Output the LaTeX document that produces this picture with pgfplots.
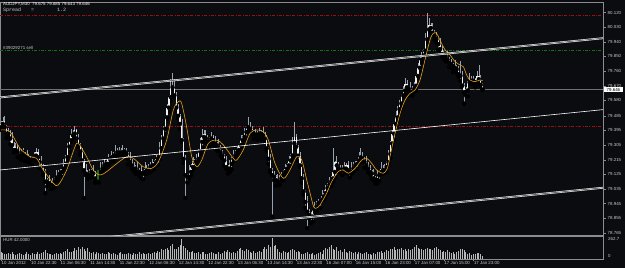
\documentclass[border=0pt]{standalone}
\usepackage{pgfplots}
\pgfplotsset{compat=1.18}
\usepackage{pgfplotstable}
\usepackage{fontspec}
\setmainfont{Liberation Sans}
\newfontfamily\monofont{Liberation Mono}
\definecolor{bg}{HTML}{0B0C0F}
\definecolor{frame}{HTML}{8C8C8C}
\definecolor{txt}{HTML}{C8C8C8}
\definecolor{wick}{HTML}{98A2AE}
\definecolor{body}{HTML}{EEF0F2}
\definecolor{maor}{HTML}{E8A01C}
\definecolor{redl}{HTML}{9A1010}
\definecolor{greenl}{HTML}{157015}
\definecolor{volc}{HTML}{B8B8B8}
\definecolor{changray}{HTML}{6E6E6E}
\definecolor{bidc}{HTML}{707070}
\newcommand\lbl{\fontsize{4.4}{5}\selectfont}

\pgfplotstableread{
i o h l c v
0 79.415 79.455 79.400 79.435 95
1 79.435 79.475 79.405 79.455 80
2 79.455 79.485 79.405 79.415 70
3 79.415 79.430 79.350 79.375 65
4 79.375 79.410 79.355 79.385 75
5 79.385 79.395 79.310 79.345 60
6 79.345 79.385 79.295 79.305 85
7 79.305 79.325 79.260 79.275 70
8 79.275 79.315 79.265 79.295 55
9 79.295 79.305 79.230 79.260 65
10 79.260 79.285 79.230 79.240 80
11 79.240 79.280 79.215 79.265 60
12 79.265 79.290 79.240 79.260 50
13 79.260 79.265 79.205 79.240 70
14 79.240 79.275 79.220 79.230 90
15 79.230 79.250 79.200 79.220 65
16 79.220 79.240 79.195 79.210 55
17 79.210 79.230 79.180 79.220 75
18 79.220 79.265 79.210 79.240 60
19 79.240 79.285 79.215 79.260 70
20 79.260 79.280 79.210 79.230 85
21 79.230 79.240 79.165 79.200 60
22 79.200 79.240 79.160 79.170 75
23 79.170 79.190 79.120 79.140 95
24 79.140 79.160 79.010 79.080 110
25 79.080 79.100 79.050 79.090 80
26 79.090 79.120 79.060 79.070 65
27 79.070 79.085 79.035 79.060 70
28 79.060 79.105 79.040 79.080 55
29 79.080 79.110 79.045 79.100 60
30 79.100 79.150 79.090 79.110 75
31 79.110 79.150 79.090 79.130 65
32 79.130 79.160 79.115 79.140 80
33 79.140 79.170 79.110 79.160 70
34 79.160 79.220 79.150 79.190 90
35 79.190 79.245 79.165 79.230 100
36 79.230 79.320 79.210 79.295 120
37 79.295 79.345 79.265 79.335 95
38 79.335 79.405 79.325 79.365 85
39 79.365 79.395 79.345 79.375 105
40 79.375 79.425 79.360 79.395 140
41 79.395 79.405 79.315 79.345 110
42 79.345 79.375 79.295 79.305 150
43 79.305 79.320 79.245 79.265 130
44 79.265 79.290 79.190 79.210 145
45 79.210 79.220 78.980 79.150 125
46 79.150 79.190 79.120 79.130 100
47 79.130 79.150 79.100 79.120 135
48 79.120 79.160 79.105 79.140 90
49 79.140 79.160 79.110 79.150 80
50 79.150 79.180 79.120 79.130 95
51 79.130 79.145 79.075 79.100 70
52 79.100 79.135 79.080 79.110 85
53 79.110 79.150 79.075 79.140 75
54 79.140 79.200 79.130 79.160 60
55 79.160 79.200 79.140 79.180 80
56 79.180 79.220 79.165 79.200 70
57 79.200 79.210 79.160 79.190 65
58 79.190 79.250 79.180 79.220 90
59 79.220 79.245 79.195 79.230 75
60 79.230 79.270 79.210 79.250 60
61 79.250 79.260 79.205 79.240 80
62 79.240 79.305 79.230 79.265 70
63 79.265 79.285 79.240 79.260 55
64 79.260 79.295 79.245 79.275 75
65 79.275 79.285 79.230 79.260 85
66 79.260 79.305 79.250 79.275 65
67 79.275 79.290 79.245 79.265 60
68 79.265 79.290 79.230 79.250 70
69 79.250 79.260 79.185 79.220 80
70 79.220 79.260 79.190 79.200 65
71 79.200 79.220 79.160 79.180 55
72 79.180 79.200 79.145 79.160 75
73 79.160 79.180 79.130 79.170 60
74 79.170 79.200 79.130 79.140 70
75 79.140 79.165 79.115 79.150 85
76 79.150 79.175 79.100 79.130 65
77 79.130 79.150 79.095 79.140 75
78 79.140 79.200 79.130 79.160 60
79 79.160 79.180 79.130 79.150 70
80 79.150 79.190 79.135 79.170 80
81 79.170 79.200 79.140 79.190 65
82 79.190 79.220 79.170 79.180 75
83 79.180 79.215 79.155 79.200 90
84 79.200 79.245 79.180 79.220 80
85 79.220 79.240 79.185 79.230 100
86 79.230 79.325 79.220 79.285 95
87 79.285 79.365 79.265 79.345 120
88 79.345 79.425 79.330 79.405 110
89 79.405 79.485 79.375 79.475 130
90 79.475 79.560 79.465 79.535 140
91 79.535 79.615 79.510 79.600 115
92 79.600 79.710 79.580 79.660 160
93 79.660 79.750 79.650 79.670 190
94 79.670 79.710 79.600 79.610 130
95 79.610 79.630 79.515 79.535 120
96 79.535 79.555 79.470 79.485 145
97 79.485 79.495 79.405 79.435 175
98 79.435 79.465 79.325 79.335 250
99 79.335 79.350 79.195 79.220 160
100 79.220 79.245 78.980 79.120 140
101 79.120 79.130 79.075 79.110 110
102 79.110 79.180 79.100 79.140 95
103 79.140 79.190 79.120 79.170 85
104 79.170 79.230 79.155 79.210 100
105 79.210 79.220 79.170 79.200 75
106 79.200 79.250 79.190 79.220 80
107 79.220 79.280 79.195 79.265 90
108 79.265 79.350 79.250 79.325 70
109 79.325 79.405 79.290 79.355 95
110 79.355 79.395 79.345 79.375 85
111 79.375 79.395 79.325 79.345 70
112 79.345 79.365 79.310 79.325 65
113 79.325 79.355 79.295 79.345 80
114 79.345 79.385 79.335 79.355 90
115 79.355 79.370 79.310 79.335 75
116 79.335 79.360 79.295 79.315 60
117 79.315 79.325 79.270 79.305 70
118 79.305 79.345 79.275 79.285 85
119 79.285 79.305 79.240 79.260 65
120 79.260 79.275 79.225 79.240 80
121 79.240 79.250 79.180 79.210 100
122 79.210 79.240 79.160 79.170 90
123 79.170 79.185 79.130 79.160 110
124 79.160 79.215 79.140 79.190 85
125 79.190 79.230 79.155 79.220 75
126 79.220 79.275 79.210 79.240 95
127 79.240 79.275 79.220 79.260 80
128 79.260 79.295 79.245 79.275 105
129 79.275 79.315 79.250 79.305 120
130 79.305 79.365 79.295 79.335 140
131 79.335 79.370 79.310 79.355 110
132 79.355 79.410 79.335 79.385 100
133 79.385 79.425 79.350 79.415 125
134 79.415 79.475 79.405 79.425 115
135 79.425 79.445 79.385 79.405 90
136 79.405 79.425 79.370 79.385 80
137 79.385 79.395 79.345 79.375 105
138 79.375 79.405 79.355 79.365 75
139 79.365 79.390 79.340 79.375 90
140 79.375 79.410 79.355 79.385 100
141 79.385 79.395 79.340 79.375 85
142 79.375 79.415 79.355 79.365 120
143 79.365 79.385 79.325 79.345 145
144 79.345 79.365 79.270 79.285 130
145 79.285 79.295 79.190 79.220 170
146 79.220 79.250 79.140 79.150 150
147 79.150 79.165 78.865 79.120 262.7
148 79.120 79.145 79.090 79.110 160
149 79.110 79.120 79.055 79.090 175
150 79.090 79.130 79.070 79.080 120
151 79.080 79.120 79.060 79.100 95
152 79.100 79.140 79.085 79.120 80
153 79.120 79.150 79.090 79.140 100
154 79.140 79.190 79.130 79.160 85
155 79.160 79.195 79.135 79.180 75
156 79.180 79.235 79.160 79.210 95
157 79.210 79.250 79.175 79.240 110
158 79.240 79.355 79.230 79.315 130
159 79.315 79.445 79.295 79.355 115
160 79.355 79.375 79.280 79.295 90
161 79.295 79.305 79.210 79.240 100
162 79.240 79.265 79.170 79.180 85
163 79.180 79.195 79.075 79.100 70
164 79.100 79.125 79.000 79.020 60
165 79.020 79.030 78.920 78.955 80
166 78.955 78.990 78.795 78.895 95
167 78.895 78.915 78.855 78.875 70
168 78.875 78.895 78.825 78.865 60
169 78.865 78.915 78.835 78.905 75
170 78.905 78.955 78.895 78.925 55
171 78.925 78.960 78.900 78.945 65
172 78.945 78.975 78.925 78.955 80
173 78.955 78.980 78.920 78.970 90
174 78.970 79.030 78.965 78.990 70
175 78.990 79.030 78.970 79.010 110
176 79.010 79.060 78.995 79.040 140
177 79.040 79.070 79.010 79.060 120
178 79.060 79.110 79.050 79.080 150
179 79.080 79.115 79.055 79.100 175
180 79.100 79.285 79.080 79.140 130
181 79.140 79.210 79.105 79.200 115
182 79.200 79.240 79.170 79.180 145
183 79.180 79.200 79.140 79.160 100
184 79.160 79.180 79.135 79.150 110
185 79.150 79.180 79.120 79.170 90
186 79.170 79.200 79.150 79.160 120
187 79.160 79.195 79.135 79.180 95
188 79.180 79.205 79.130 79.150 80
189 79.150 79.160 79.105 79.140 105
190 79.140 79.200 79.130 79.160 90
191 79.160 79.200 79.140 79.180 75
192 79.180 79.210 79.165 79.190 85
193 79.190 79.220 79.160 79.210 70
194 79.210 79.260 79.200 79.230 95
195 79.230 79.285 79.205 79.240 80
196 79.240 79.265 79.200 79.220 60
197 79.220 79.230 79.165 79.200 75
198 79.200 79.240 79.170 79.180 90
199 79.180 79.200 79.140 79.160 65
200 79.160 79.180 79.125 79.140 70
201 79.140 79.150 79.100 79.130 55
202 79.130 79.160 79.090 79.100 80
203 79.100 79.115 79.070 79.090 65
204 79.090 79.145 79.070 79.120 95
205 79.120 79.150 79.085 79.140 85
206 79.140 79.200 79.130 79.160 100
207 79.160 79.180 79.130 79.150 75
208 79.150 79.190 79.135 79.170 90
209 79.170 79.210 79.140 79.200 110
210 79.200 79.275 79.190 79.250 100
211 79.250 79.330 79.225 79.315 120
212 79.315 79.400 79.295 79.375 125
213 79.375 79.445 79.340 79.435 145
214 79.435 79.515 79.425 79.475 110
215 79.475 79.545 79.455 79.525 130
216 79.525 79.580 79.510 79.560 120
217 79.560 79.620 79.535 79.610 140
218 79.610 79.670 79.600 79.640 110
219 79.640 79.720 79.615 79.680 125
220 79.680 79.705 79.640 79.660 105
221 79.660 79.670 79.615 79.650 130
222 79.650 79.690 79.620 79.630 115
223 79.630 79.670 79.610 79.650 120
224 79.650 79.690 79.635 79.670 150
225 79.670 79.740 79.640 79.730 175
226 79.730 79.810 79.720 79.780 140
227 79.780 79.845 79.755 79.830 120
228 79.830 79.880 79.810 79.855 130
229 79.855 79.895 79.825 79.885 115
230 79.885 79.995 79.875 79.955 125
231 79.955 80.115 79.935 80.015 140
232 80.015 80.085 80.000 80.045 130
233 80.045 80.055 79.995 80.025 120
234 80.025 80.055 79.985 79.995 110
235 79.995 80.010 79.950 79.975 140
236 79.975 80.000 79.935 79.955 150
237 79.955 79.965 79.890 79.925 130
238 79.925 79.965 79.885 79.895 110
239 79.895 79.915 79.850 79.865 95
240 79.865 79.885 79.835 79.850 100
241 79.850 79.865 79.820 79.855 85
242 79.855 79.885 79.820 79.830 110
243 79.830 79.845 79.785 79.810 90
244 79.810 79.835 79.780 79.800 80
245 79.800 79.810 79.755 79.790 95
246 79.790 79.830 79.770 79.780 70
247 79.780 79.800 79.750 79.770 85
248 79.770 79.790 79.725 79.740 100
249 79.740 79.820 79.700 79.730 120
250 79.730 79.760 79.660 79.670 120
251 79.670 79.685 79.560 79.630 110
252 79.630 79.665 79.610 79.640 85
253 79.640 79.700 79.605 79.690 60
254 79.690 79.750 79.680 79.710 75
255 79.710 79.730 79.680 79.700 55
256 79.700 79.730 79.685 79.710 70
257 79.710 79.720 79.660 79.690 65
258 79.690 79.760 79.680 79.730 75
259 79.730 79.800 79.685 79.710 80
260 79.710 79.735 79.665 79.675 70
261 79.675 79.685 79.643 79.646 42
}\candles

\begin{document}
\begin{tikzpicture}
\useasboundingbox (0pt,0pt) rectangle (625pt,268pt);
\fill[bg] (0pt,0pt) rectangle (625pt,268pt);
\begin{axis}[
  at={(0pt,32.4pt)}, anchor=south west, scale only axis,
  width=603pt, height=233.6pt,
  xmin=-0.542, xmax=326.29, ymin=78.7488, ymax=80.1845,
  axis line style={draw=frame, line width=0.5pt},
  xtick=\empty,
  ytick={80.120,80.030,79.940,79.850,79.760,79.670,79.580,79.485,79.395,79.305,79.215,79.125,79.035,78.945,78.855,78.765},
  yticklabels={80.120,80.030,79.940,79.850,79.760,79.670,79.580,79.485,79.395,79.305,79.215,79.125,79.035,78.945,78.855,78.765},
  ytick pos=right, yticklabel pos=right,
  tick align=outside, major tick length=2.5pt,
  tick style={draw=frame, line width=0.4pt},
  yticklabel style={font=\lbl, text=txt, inner sep=0pt, anchor=west, xshift=2pt},
  clip mode=individual,
]
\addplot[redl, line width=0.5pt, dash pattern=on 3pt off 1.5pt on 0.8pt off 1.5pt] coordinates {(-0.542,80.105) (326.29,80.105)};
\addplot[greenl, line width=0.5pt, dash pattern=on 3pt off 1.5pt on 0.8pt off 1.5pt] coordinates {(-0.542,79.885) (326.29,79.885)};
\addplot[redl, line width=0.5pt, dash pattern=on 3pt off 1.5pt on 0.8pt off 1.5pt] coordinates {(-0.542,79.418) (326.29,79.418)};
\addplot[bidc, line width=0.4pt] coordinates {(-0.542,79.646) (326.29,79.646)};
% wicks
\addplot[only marks, mark=none, error bars/.cd, y dir=plus, y explicit, error mark=none,
  error bar style={draw=wick, line width=0.6pt}]
  table[x=i, y=l, y error plus expr={\thisrow{h}-\thisrow{l}}] {\candles};
% bodies
\addplot[only marks, mark=none, error bars/.cd, y dir=plus, y explicit, error mark=none,
  error bar style={draw=body, line width=1.3pt}]
  table[x=i, y expr={min(\thisrow{o},\thisrow{c})}, y error plus expr={abs(\thisrow{c}-\thisrow{o})}] {\candles};
\addplot[only marks, mark=none, error bars/.cd, y dir=plus, y explicit, error mark=none,
  error bar style={draw=greenl, line width=1.3pt}]
  coordinates {(52.5,79.08) += (0,0.075)};
% moving average
\addplot[maor, line width=0.6pt, smooth] coordinates {
(0,79.398) (4.9,79.387) (10.3,79.285) (15.7,79.234) (19.3,79.224) (22.9,79.152)
(28.4,79.070) (31.1,79.060) (35.6,79.152) (40.1,79.295) (41.9,79.316) (46.4,79.234)
(50,79.152) (53.7,79.121) (57.3,79.142) (61.8,79.183) (68.1,79.234) (71.7,79.224)
(77.1,79.172) (81.7,79.162) (85.3,79.203) (89.8,79.336) (93.4,79.521) (96.1,79.572)
(97.9,79.562) (100.6,79.418) (103.4,79.234) (106.1,79.172) (108.8,79.213) (112.4,79.316)
(116.9,79.336) (120.5,79.306) (125.9,79.224) (127.7,79.213) (131.3,79.275) (135,79.378)
(138.6,79.398) (142.2,79.387) (144.9,79.336) (148.5,79.193) (153,79.101) (156.6,79.152)
(160.3,79.234) (163,79.213) (165.7,79.091) (167.5,79.011) (169.5,78.925) (171,78.918)
(172.9,78.937) (176.5,79.009) (179.2,79.080) (182.8,79.142) (185.5,79.152) (188.2,79.132)
(191.9,79.162) (195.5,79.213) (198.2,79.224) (200.9,79.193) (203.6,79.152) (207.2,79.132)
(209.4,79.162) (211.2,79.255) (213.6,79.378) (216.3,79.500) (219,79.582) (221.7,79.623)
(224.4,79.644) (227.1,79.705) (229.8,79.828) (232.5,79.951) (234.3,79.992) (236.1,79.992)
(237.9,79.951) (240.7,79.890) (243.4,79.859) (246.1,79.818) (248.8,79.797) (250.6,79.787)
(252.4,79.736) (254.2,79.705) (256.9,79.695) (259.6,79.705) (261,79.701)};
% channel lines
\addplot[white, line width=0.45pt, double=changray, double distance=0.9pt] coordinates {(-0.542,79.598) (326.29,79.962)};
\addplot[white, line width=0.6pt] coordinates {(-0.542,79.152) (326.29,79.523)};
\addplot[white, line width=0.45pt, double=changray, double distance=0.9pt] coordinates {(53.7,78.734) (326.29,79.043)};
\coordinate (bidR) at (axis cs:326.29,79.646);
\end{axis}

\begin{axis}[
  at={(0pt,8.7pt)}, anchor=south west, scale only axis,
  width=603pt, height=23.3pt,
  xmin=-0.542, xmax=326.29, ymin=0, ymax=285,
  axis line style={draw=frame, line width=0.5pt},
  ytick=\empty,
  xtick={0,16,...,256},
  xticklabels={{10 Jan 2012},{10 Jan 22:30},{11 Jan 06:30},{11 Jan 14:30},{11 Jan 22:30},{12 Jan 06:30},{12 Jan 14:30},{12 Jan 22:30},{13 Jan 06:30},{13 Jan 14:30},{13 Jan 22:30},{16 Jan 07:00},{16 Jan 15:00},{16 Jan 23:00},{17 Jan 07:00},{17 Jan 15:00},{17 Jan 23:00}},
  xtick pos=bottom, tick align=outside, major tick length=1.5pt,
  tick style={draw=frame, line width=0.4pt},
  xticklabel style={font=\lbl, text=txt, inner sep=0pt, anchor=north west, xshift=0.5pt, yshift=-0.5pt},
  clip mode=individual,
]
\addplot[ycomb, draw=volc, line width=0.9pt] table[x=i, y=v] {\candles};
\end{axis}

\node[anchor=west, inner sep=0pt, font=\lbl, text=white] at (3pt,263.4pt) {AUDJPY,M30\ \ 79.675 79.685 79.643 79.646};
\node[anchor=west, inner sep=0pt, text=txt] at (3pt,258.2pt) {\monofont\fontsize{5}{6}\selectfont Spread};
\node[anchor=west, inner sep=0pt, text=txt] at (31pt,258.2pt) {\monofont\fontsize{5}{6}\selectfont =};
\node[anchor=west, inner sep=0pt, text=txt] at (57pt,258.2pt) {\monofont\fontsize{5}{6}\selectfont 1.2};
\node[anchor=west, inner sep=0pt, font=\lbl, text=txt] at (3pt,220pt) {\#39029271 sell};
\node[anchor=west, inner sep=0pt, font=\lbl, text=txt] at (3pt,27.7pt) {HUR 42.0000};
\node[anchor=west, inner sep=0pt, font=\lbl, text=txt] at (608pt,29pt) {262.7};
\node[anchor=west, inner sep=0pt, font=\lbl, text=txt] at (608pt,12pt) {0};
\node[fill=white, text=black, font=\lbl, inner xsep=2.5pt, inner ysep=0.8pt, anchor=west] at ([xshift=1pt]bidR) {79.646};
\end{tikzpicture}
\end{document}
